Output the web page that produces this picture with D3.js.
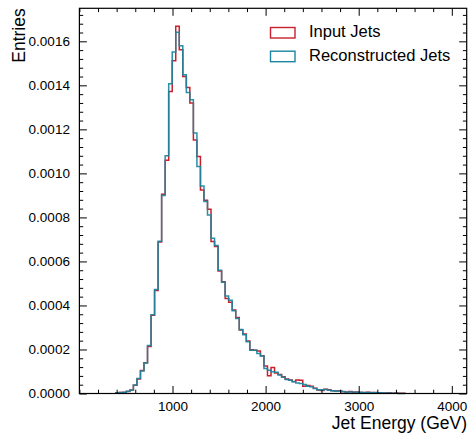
<!DOCTYPE html>
<html>
<head>
<meta charset="utf-8">
<script src="https://cdn.jsdelivr.net/npm/d3@7"></script>
<style>
  body { margin: 0; background: #fff; }
  svg text { font-family: "Liberation Sans", Arial, sans-serif; fill: #000; }
</style>
</head>
<body>
<div id="chart"></div>
<script>
// histogram binning (GeV)
var binStart = 201, binWidth = 37.9, firstBin = 5;

// normalised entries per bin, starting at bin index firstBin
var inputJets = [
  0.000003, 0.000004, 0.000006, 0.000009, 0.000016, 0.000037, 0.000066, 0.000105, 0.000140, 0.000213,
  0.000356, 0.000468, 0.000688, 0.000905, 0.001060, 0.001372, 0.001512, 0.001668, 0.001562, 0.001440,
  0.001390, 0.001320, 0.001152, 0.001077, 0.000925, 0.000878, 0.000837, 0.000690, 0.000668, 0.000556,
  0.000508, 0.000432, 0.000415, 0.000379, 0.000345, 0.000288, 0.000270, 0.000238, 0.000199, 0.000196,
  0.000193, 0.000172, 0.000125, 0.000081, 0.000118, 0.000093, 0.000086, 0.000076, 0.000066, 0.000061,
  0.000054, 0.000061, 0.000060, 0.000033, 0.000036, 0.000033, 0.000024, 0.000016, 0.000014, 0.000019,
  0.000017, 0.000012, 0.000011, 0.000013, 0.000008, 0.000007, 0.000009, 0.000006, 0.000007, 0.000005,
  0.000004, 0.000006, 0.000003, 0.000004, 0.000003, 0.000002, 0.000002, 0.000003, 0.000001, 0.000002,
  0.000001, 0.000001
];
var recoJets = [
  0.000002, 0.000004, 0.000005, 0.000010, 0.000015, 0.000039, 0.000068, 0.000102, 0.000138, 0.000218,
  0.000358, 0.000472, 0.000692, 0.000900, 0.001080, 0.001407, 0.001551, 0.001641, 0.001580, 0.001448,
  0.001368, 0.001334, 0.001183, 0.001031, 0.000943, 0.000872, 0.000811, 0.000705, 0.000672, 0.000560,
  0.000505, 0.000443, 0.000424, 0.000376, 0.000341, 0.000291, 0.000267, 0.000235, 0.000197, 0.000197,
  0.000182, 0.000170, 0.000114, 0.000106, 0.000099, 0.000096, 0.000084, 0.000074, 0.000064, 0.000060,
  0.000053, 0.000048, 0.000046, 0.000041, 0.000033, 0.000031, 0.000023, 0.000017, 0.000016, 0.000018,
  0.000015, 0.000013, 0.000010, 0.000011, 0.000009, 0.000006, 0.000007, 0.000007, 0.000005, 0.000006,
  0.000003, 0.000004, 0.000004, 0.000003, 0.000002, 0.000003, 0.000001, 0.000002, 0.000001, 0.000001,
  0.000000, 0.000000
];

var xMajor = [1000, 2000, 3000, 4000];
var yMajor = [0, 0.0002, 0.0004, 0.0006, 0.0008, 0.0010, 0.0012, 0.0014, 0.0016];
var seriesNames = ["Input Jets", "Reconstructed Jets"];
var seriesColors = ["#c8202c", "#1a86a0"];

var W = 469, H = 434;
var margin = { top: 8.3, right: 2.3, bot: 40.5, left: 79.4 };
var w = W - margin.left - margin.right, h = H - margin.top - margin.bot;

var xSc = d3.scaleLinear().domain([0, 4160]).range([0, w]);
var ySc = d3.scaleLinear().domain([0, 0.00175]).range([h, 0]);

var xMinor = d3.range(0, 4160, 200).filter(function(d) { return xMajor.indexOf(d) < 0; });
var yMinor = d3.range(0, 0.00175, 0.00004).filter(function(d, i) { return i % 5; });

var svg = d3.select("#chart").append("svg").attr("width", W).attr("height", H);
var g = svg.append("g").attr("transform", "translate(" + margin.left + "," + margin.top + ")");

// histogram step paths
function stepPoints(vals) {
  var pts = [[binStart + firstBin * binWidth, 0]];
  vals.forEach(function(v, i) { pts.push([binStart + (firstBin + i) * binWidth, v]); });
  pts.push([binStart + (firstBin + vals.length) * binWidth, 0]);
  return pts;
}
var line = d3.line().curve(d3.curveStepAfter)
  .x(function(d) { return xSc(d[0]); })
  .y(function(d) { return ySc(d[1]); });

g.append("path").attr("d", line(stepPoints(inputJets)))
  .attr("fill", "none").attr("stroke", seriesColors[0]).attr("stroke-width", 1.5);
g.append("path").attr("d", line(stepPoints(recoJets)))
  .attr("fill", "none").attr("stroke", seriesColors[1]).attr("stroke-width", 1.5).attr("opacity", 0.93);

// axes: ticks inside on all four sides
function tickAxis(axis, vals, len, fmt) {
  return axis.tickValues(vals).tickSize(-len).tickSizeOuter(0).tickFormat(fmt);
}
var noLab = function() { return ""; };

g.append("g").attr("class", "x axis").attr("transform", "translate(0," + h + ")")
  .call(tickAxis(d3.axisBottom(xSc), xMajor, 7.5, d3.format("d")));
g.append("g").attr("class", "x minor").attr("transform", "translate(0," + h + ")")
  .call(tickAxis(d3.axisBottom(xSc), xMinor, 3.8, noLab));
g.append("g").attr("class", "x2 axis")
  .call(tickAxis(d3.axisTop(xSc), xMajor, 7.5, noLab));
g.append("g").attr("class", "x2 minor")
  .call(tickAxis(d3.axisTop(xSc), xMinor, 3.8, noLab));

g.append("g").attr("class", "y axis")
  .call(tickAxis(d3.axisLeft(ySc), yMajor, 7.5, d3.format(".4f")));
g.append("g").attr("class", "y minor")
  .call(tickAxis(d3.axisLeft(ySc), yMinor, 3.8, noLab));
g.append("g").attr("class", "y2 axis").attr("transform", "translate(" + w + ",0)")
  .call(tickAxis(d3.axisRight(ySc), yMajor, 7.5, noLab));
g.append("g").attr("class", "y2 minor").attr("transform", "translate(" + w + ",0)")
  .call(tickAxis(d3.axisRight(ySc), yMinor, 3.8, noLab));

g.selectAll(".tick line").attr("stroke", "#000").attr("stroke-width", 1);
g.selectAll(".domain").remove();
g.selectAll(".x.axis text").attr("dy", null).attr("y", 17.5).style("font-size", "13.5px");
g.selectAll(".y.axis text").attr("x", -9.5).style("font-size", "13.5px");

g.append("rect").attr("width", w).attr("height", h)
  .attr("fill", "none").attr("stroke", "#000").attr("stroke-width", 1.2);

// axis labels
svg.append("text").attr("text-anchor", "end")
  .attr("x", W - 2).attr("y", H - 5)
  .style("font-size", "17.5px").text("Jet Energy (GeV)");
svg.append("text").attr("text-anchor", "end")
  .attr("transform", "translate(25," + margin.top + ") rotate(-90)")
  .style("font-size", "17.5px").text("Entries");

// legend
var legend = svg.append("g").attr("class", "legend");
seriesNames.forEach(function(name, i) {
  var ly = 27.5 + i * 23.7;
  legend.append("rect").attr("x", 270.5).attr("y", ly).attr("width", 24.5).attr("height", 10.5)
    .attr("fill", "none").attr("stroke", seriesColors[i]).attr("stroke-width", 1.4);
  legend.append("text").attr("x", 309).attr("y", ly + 9.8)
    .style("font-size", "16.5px").text(name);
});
</script>
</body>
</html>
